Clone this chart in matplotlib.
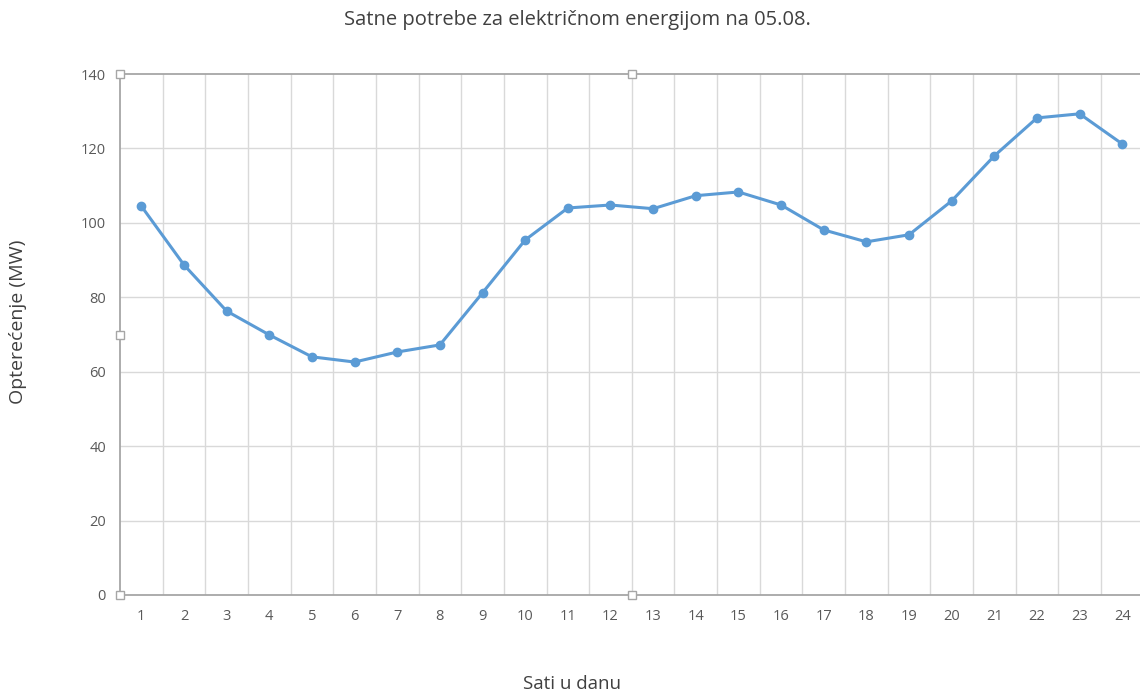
import numpy as np
import matplotlib.pyplot as plt

# sati u danu i opterecenje (MW) ocitano sa slike
hours = list(range(1, 25))
load_mw = [104.5, 88.7, 76.3, 69.9, 64.0, 62.6, 65.3, 67.2, 81.2, 95.4, 104.0, 104.8,
           103.8, 107.3, 108.3, 104.8, 98.1, 94.9, 96.8, 105.9, 118.0, 128.2, 129.3, 121.2]
y_ticks = [0, 20, 40, 60, 80, 100, 120, 140]

title = 'Satne potrebe za električnom energijom na 05.08.'
x_label = 'Sati u danu'
y_label = 'Opterećenje (MW)'

plt.rcParams['font.family'] = ['Open Sans', 'DejaVu Sans']

fig = plt.figure(figsize=(11.4, 6.93), dpi=100)
ax = fig.add_axes([120 / 1140, 98 / 693, 1023.6 / 1140, 521 / 693])

grid_col = '#d9d9d9'
text_col = '#595959'

# grid: horizontal at ticks, vertical between categories
for v in y_ticks[1:-1]:
    ax.axhline(v, color=grid_col, lw=1, zorder=0)
for b in np.arange(1.5, 24.5, 1.0):
    ax.axvline(b, color=grid_col, lw=1, zorder=0)

ax.plot(hours, load_mw, color='#5b9bd5', lw=2.2, marker='o', markersize=6,
        markeredgecolor='#5b9bd5', zorder=3)

ax.set_xlim(0.5, 24.5)
ax.set_ylim(0, 140)
ax.set_xticks(hours)
ax.set_yticks(y_ticks)
ax.tick_params(length=0, labelsize=10.5, labelcolor=text_col)
ax.tick_params(axis='x', pad=10)
ax.tick_params(axis='y', pad=10)

for s in ['left', 'top', 'bottom']:
    ax.spines[s].set_color('#a6a6a6')
    ax.spines[s].set_linewidth(1.3)
ax.spines['right'].set_visible(False)

# selection handles (Excel screenshot artefacts)
handles = [(0, 1), (0.5, 1), (0, 0.5), (0, 0), (0.5, 0)]
for hx, hy in handles:
    ax.plot(hx, hy, marker='s', markersize=6, markerfacecolor='white',
            markeredgecolor='#a6a6a6', markeredgewidth=1, transform=ax.transAxes,
            clip_on=False, zorder=5)

fig.text(577 / 1140, 1 - 20 / 693, title, ha='center', va='center',
         fontsize=14.5, color='#404040')
fig.text(572 / 1140, 1 - 684 / 693, x_label, ha='center', va='center',
         fontsize=13.5, color='#404040')
fig.text(18 / 1140, 1 - 322 / 693, y_label, ha='center', va='center',
         rotation=90, fontsize=14, color='#404040')

fig.savefig('out.png', dpi=100)
